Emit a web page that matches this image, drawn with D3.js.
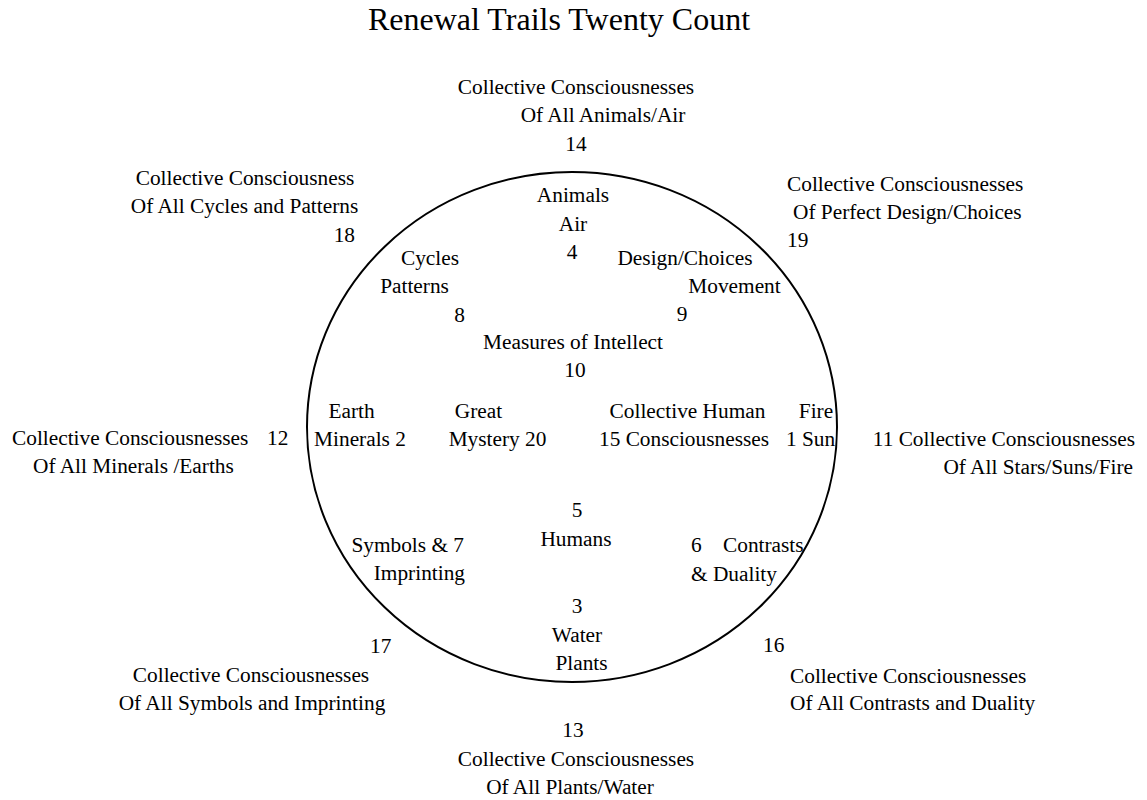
<!DOCTYPE html>
<html>
<head>
<meta charset="utf-8">
<script src="https://cdn.jsdelivr.net/npm/d3@7"></script>
<style>
  body { margin: 0; background: #fff; }
  text { font-family: "Liberation Serif", "Times New Roman", serif; fill: #000; }
</style>
</head>
<body>
<svg id="wheel-svg" width="1147" height="800"></svg>
<script>
let titleText = "Renewal Trails Twenty Count";

// label text, line by line (outer ring 11-19, inner ring 1-10, centre 20)
let outerLines = [
    ["Collective Consciousnesses", "Of All Animals/Air", "14"],
    ["Collective Consciousness", "Of All Cycles and Patterns", "18"],
    ["Collective Consciousnesses", "Of Perfect Design/Choices", "19"],
    ["Collective Consciousnesses", "12", "Of All Minerals /Earths"],
    ["11 Collective Consciousnesses", "Of All Stars/Suns/Fire"],
    ["17", "Collective Consciousnesses", "Of All Symbols and Imprinting"],
    ["16", "Collective Consciousnesses", "Of All Contrasts and Duality"],
    ["13", "Collective Consciousnesses", "Of All Plants/Water"]
];
let innerLines = [
    ["Animals", "Air", "4"],
    ["Cycles", "Patterns", "8"],
    ["Design/Choices", "Movement", "9"],
    ["Measures of Intellect", "10"],
    ["Earth", "Minerals 2"],
    ["Great", "Mystery 20"],
    ["Collective Human", "15 Consciousnesses"],
    ["Fire", "1 Sun"],
    ["5", "Humans"],
    ["Symbols & 7", "Imprinting"],
    ["6", "Contrasts", "& Duality"],
    ["3", "Water", "Plants"]
];

// layout: per line [dx, dy, anchor] from the circle centre
let outerLayout = [
    [[4, -333, 'm'], [31, -305, 'm'], [4, -276, 'm']],
    [[-327, -242, 'm'], [-327.5, -214, 'm'], [-217, -185, 'e']],
    [[215, -236, 's'], [221, -208, 's'], [215, -180, 's']],
    [[-560, 18, 's'], [-305, 18, 's'], [-539, 46, 's']],
    [[563, 19, 'e'], [561, 47, 'e']],
    [[-202, 226, 's'], [-321, 255, 'm'], [-320, 283, 'm']],
    [[191, 225, 's'], [218, 256, 's'], [218, 283, 's']],
    [[1, 310, 'm'], [4, 339, 'm'], [-2, 367, 'm']]
];
let innerLayout = [
    [[1, -225, 'm'], [1, -196, 'm'], [0, -168, 'm']],
    [[-142, -162, 'm'], [-157.5, -134, 'm'], [-112.5, -105, 'm']],
    [[113, -162, 'm'], [162.5, -134, 'm'], [110, -106, 'm']],
    [[1, -78, 'm'], [3, -50, 'm']],
    [[-220.5, -9, 'm'], [-212, 19, 'm']],
    [[-93.5, -9, 'm'], [-74.5, 19, 'm']],
    [[115.5, -9, 'm'], [112, 19, 'm']],
    [[244, -9, 'm'], [238.5, 19, 'm']],
    [[5, 90, 'm'], [4, 119, 'm']],
    [[-108, 125, 'e'], [-107, 153, 'e']],
    [[119, 125, 's'], [151, 125, 's'], [119, 154, 's']],
    [[5, 186, 'm'], [5, 215, 'm'], [9.5, 243, 'm']]
];

let anchors = {m: 'middle', s: 'start', e: 'end'};

let svg = d3.select('#wheel-svg');
let svgWidth = +svg.attr('width');
let center = {x: 572, y: 427};
let radius = {x: 265, y: 255};

// unit scales for the wheel, centre at 0
let xScale = d3.scaleLinear().domain([-radius.x, radius.x]).range([center.x - radius.x, center.x + radius.x]);
let yScale = d3.scaleLinear().domain([-radius.y, radius.y]).range([center.y - radius.y, center.y + radius.y]);

// title
svg.append('text')
    .attr('x', 559)
    .attr('y', 30)
    .attr('text-anchor', 'middle')
    .style('font-size', '32px')
    .text(titleText);

// the wheel
svg.append('ellipse')
    .attr('cx', xScale(0))
    .attr('cy', yScale(0))
    .attr('rx', xScale(radius.x) - xScale(0))
    .attr('ry', yScale(radius.y) - yScale(0))
    .attr('fill', 'none')
    .attr('stroke', '#000')
    .attr('stroke-width', 2);

function flatten(lines, layout){
    let out = [];
    lines.forEach((l, i)=>{
        l.forEach((t, j)=>{
            let p = layout[i][j];
            out.push({text: t, dx: p[0], dy: p[1], anchor: anchors[p[2]]});
        });
    });
    return out;
}

let allLines = flatten(outerLines, outerLayout).concat(flatten(innerLines, innerLayout));

svg.append('g')
    .attr('class', 'labels')
    .selectAll('text')
    .data(allLines)
    .enter()
    .append('text')
    .attr('x', d => xScale(d.dx))
    .attr('y', d => yScale(d.dy))
    .attr('text-anchor', d => d.anchor)
    .style('font-size', '21.33px')
    .text(d => d.text);
</script>
</body>
</html>
